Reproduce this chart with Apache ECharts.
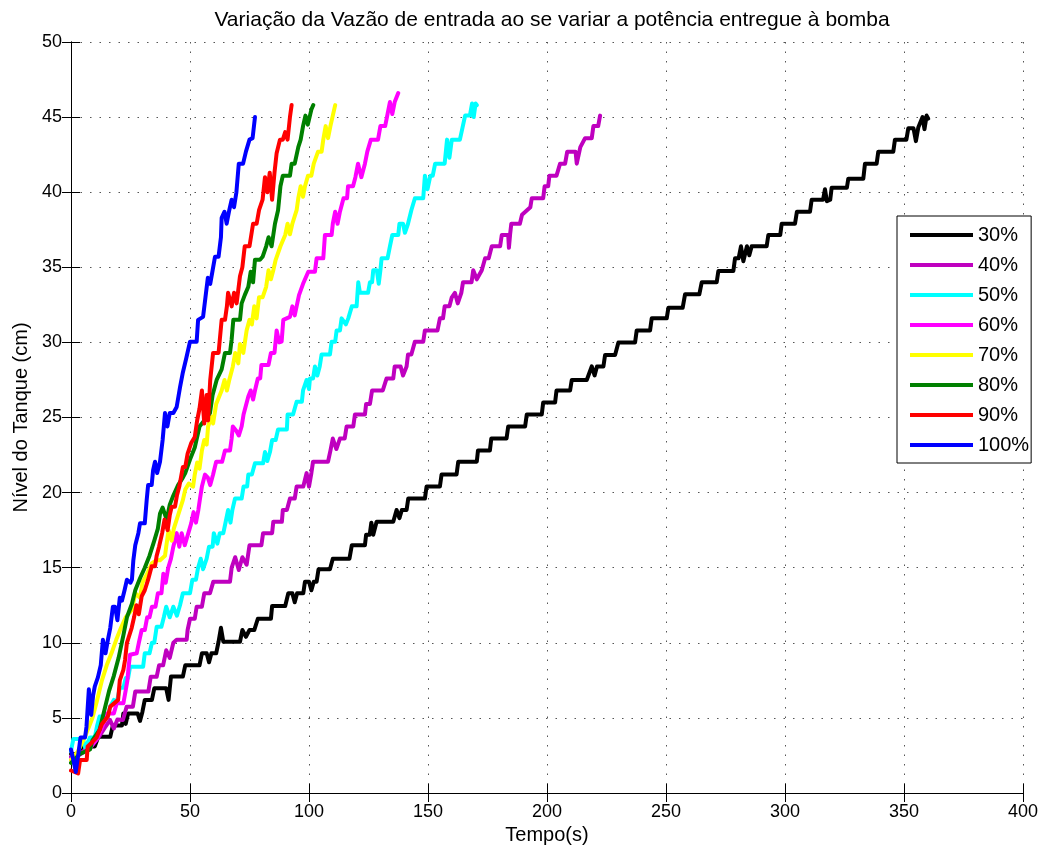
<!DOCTYPE html>
<html>
<head>
<meta charset="utf-8">
<script src="https://cdn.jsdelivr.net/npm/echarts@6/dist/echarts.min.js"></script>
<style>
html,body{margin:0;padding:0;background:#fff;}
#chart{width:1044px;height:853px;}
</style>
</head>
<body>
<div id="chart"></div>
<script>
// ---- data: [time (s), level (cm)] ----
var seriesNames = ['30%', '40%', '50%', '60%', '70%', '80%', '90%', '100%'];
var xTicks = [0, 50, 100, 150, 200, 250, 300, 350, 400];
var yTicks = [0, 5, 10, 15, 20, 25, 30, 35, 40, 45, 50];

var p30 = [[0,2.6],[4,2.6],[5,3.1],[10,3.1],[11.5,3.75],[16.5,3.75],[17.6,4.5],[21.4,4.5],[22,5.3],[23,4.6],[24,5.3],[28,5.3],[29,4.8],[30,5.4],[31,6.2],[34,6.2],[35,6.97],[40,6.97],[41,6.2],[42,7.75],[47,7.75],[48,8.5],[54,8.5],[55,9.3],[57,9.3],[58,8.7],[59,9.3],[61,9.3],[62,10.07],[63,11.0],[64,10.07],[71,10.07],[72,10.85],[73.5,10.4],[75,10.85],[77,10.85],[78.5,11.6],[84,11.6],[84.5,12.45],[90,12.45],[91.3,13.3],[93,13.3],[94,12.7],[95,13.3],[97.6,13.3],[98.3,14.07],[100,14.07],[101,13.5],[102,14.07],[103.2,14.07],[104,14.9],[108.8,14.9],[110,15.6],[117,15.6],[118,16.5],[123.5,16.5],[124,17.2],[125.5,17.2],[126.2,18.0],[127,17.2],[127.7,17.2],[128.4,18.06],[135.4,18.06],[136.8,18.84],[138,18.3],[139,18.84],[141,18.84],[141.7,19.6],[148.7,19.6],[149.4,20.4],[155,20.4],[155.7,21.2],[162,21.2],[162.7,22.06],[170.5,22.06],[171,22.8],[176,22.8],[176.6,23.6],[183,23.6],[183.7,24.4],[190.8,24.4],[191.5,25.2],[197.8,25.2],[198.4,26.0],[203.4,26.0],[204,26.8],[209.7,26.8],[210.4,27.5],[216.7,27.5],[218.8,28.4],[220,27.8],[221,28.4],[223.7,28.4],[224.4,29.16],[228.6,29.16],[230,30.0],[237,30.0],[237.7,30.8],[243.3,30.8],[244,31.6],[250.3,31.6],[251,32.3],[257,32.3],[258,33.2],[264,33.2],[265,34.0],[271.3,34.0],[272,34.75],[278.3,34.75],[279,35.6],[280.5,35.6],[281.5,36.4],[282.5,35.4],[284,36.4],[285,35.8],[286,36.4],[292.3,36.4],[293,37.15],[298,37.15],[298.6,37.9],[304.2,37.9],[305,38.7],[310.5,38.7],[311.2,39.5],[316,39.5],[316.8,40.2],[317.6,39.4],[319,39.5],[319.6,40.3],[326,40.3],[326.6,40.9],[332.9,40.9],[333.6,41.9],[338.5,41.9],[339.2,42.7],[345.5,42.7],[346.2,43.5],[351,43.5],[351.8,44.25],[354,44.25],[355,43.4],[356,44.3],[356.7,44.25],[357.8,45.0],[358.6,44.2],[359.5,45.1],[360.2,44.9]];

var p40 = [[0,2.4],[4,2.6],[8,3.2],[12,3.8],[14,4.3],[16.4,4.86],[18,4.3],[19.5,4.9],[21.8,4.86],[23.4,5.75],[26,5.75],[27,6.75],[32.5,6.75],[33.5,7.74],[36,7.74],[37,8.5],[38.7,8.5],[40,9.5],[41.5,9.0],[43,10.0],[44.4,10.2],[48.6,10.2],[49,10.85],[50,11.6],[52,11.6],[52.8,12.4],[55,12.4],[56,13.3],[58.4,13.3],[59.8,14.07],[66.8,14.07],[67.5,15.0],[69,15.7],[70.5,14.85],[72,15.7],[73.8,15.2],[75,16.5],[80,16.5],[80.7,17.3],[84.5,17.3],[85,18.06],[88.6,18.06],[89,18.84],[90.7,18.84],[92,19.6],[94,19.6],[94.8,20.4],[97.6,20.4],[99,21.3],[100,20.4],[101,21.3],[101.7,22.06],[108,22.06],[109,22.8],[110,23.6],[111.5,22.9],[113,23.6],[115,23.6],[115.8,24.4],[118.6,24.4],[119.3,25.2],[123.5,25.2],[124,25.9],[125.6,25.9],[126.5,26.8],[131,26.8],[132.6,27.6],[135.4,27.6],[136,28.4],[138.5,28.4],[139.5,27.8],[141,28.4],[141.6,29.2],[143,29.2],[144.5,30.05],[148,30.05],[148.7,30.8],[154,30.8],[155,31.6],[156.3,31.6],[157,32.4],[159,32.4],[160,33.0],[161.3,33.3],[162.5,32.6],[164,33.3],[164.7,34.0],[168.3,34.0],[169,34.8],[170.5,34.2],[172.6,34.8],[174,35.6],[175.5,35.6],[176.8,36.4],[180.3,36.4],[181,37.15],[183.7,37.15],[184,36.3],[184.5,37.2],[185,37.9],[188.6,37.9],[189.5,38.5],[191.6,38.8],[193,39.0],[193.6,39.6],[198.4,39.6],[199,40.4],[200.5,40.4],[201,41.1],[204,41.1],[205.5,41.9],[207.6,41.9],[208.5,42.7],[212,42.7],[212.5,41.9],[214,43.0],[216,43.6],[218.8,43.6],[219.5,44.4],[221.5,44.4],[222.3,45.1]];

var p50 = [[0,2.8],[1,3.6],[5,3.6],[6,3.0],[8,3.7],[10,3.7],[11,4.5],[12,5.1],[15.5,5.1],[16.4,5.75],[18,6.2],[19.2,6.0],[20.5,7.0],[22,7.0],[23,7.65],[24,7.65],[24.8,8.4],[30.3,8.4],[31,9.3],[33,9.3],[34,10.0],[35,10.0],[36,11.07],[38,11.07],[39,11.7],[40,12.4],[41.5,11.7],[43,12.4],[44.5,11.8],[45.8,12.5],[47,13.3],[50,13.3],[51,14.2],[52.5,14.2],[53.4,15.0],[54.5,15.6],[55.5,14.9],[57,15.6],[58,16.4],[59.5,16.4],[60,17.3],[61.5,16.6],[62.5,17.3],[64,17.3],[65,18.06],[66,18.84],[67,18.0],[67.8,18.84],[68.9,19.6],[71.7,19.6],[72.5,20.4],[74,20.4],[74.5,21.2],[76,21.2],[77.3,21.95],[80.7,21.95],[81.5,22.7],[82.5,22.1],[83.6,22.7],[84.5,23.5],[86,23.5],[87,24.2],[90.7,24.2],[91,25.2],[93.3,25.2],[94.8,26.05],[97,26.05],[97.5,26.8],[99,27.5],[100,26.9],[100.4,27.6],[101.7,27.6],[102.5,28.4],[103.5,27.8],[104.5,28.4],[105.3,29.2],[108.8,29.2],[109.5,30.05],[111,30.05],[111.6,30.8],[113,30.8],[113.7,31.6],[115.5,31.2],[116.5,31.6],[118,32.4],[120,32.4],[120.7,34.0],[121.4,33.3],[124.8,33.3],[125.6,34.0],[126.5,34.0],[127,34.8],[128.5,34.8],[129.3,33.9],[130,34.8],[130.5,35.6],[133,35.6],[134,36.4],[134.5,36.4],[135,37.15],[137.5,37.15],[138,37.9],[139.5,37.9],[140.3,37.3],[141.6,37.9],[143,38.8],[144.5,39.6],[148,39.6],[148.7,41.1],[149.8,40.2],[151,41.1],[152,41.1],[153,41.9],[157,41.9],[158,43.5],[159,42.3],[160,43.5],[163.4,43.5],[164.5,44.3],[165.6,45.1],[167.6,45.1],[168.5,45.9],[169.2,45.0],[170,45.9],[170.5,45.8]];

var p60 = [[0,2.2],[4,2.6],[8,3.0],[11,3.6],[13.4,4.5],[15,5.3],[18,5.3],[19.2,5.97],[22,5.97],[23,6.85],[23.7,7.5],[24.2,8.4],[24.8,9.2],[27.6,9.3],[28.5,10.0],[29.7,10.85],[31,10.85],[32,11.7],[33,11.7],[34,12.4],[35.5,12.4],[36.5,13.3],[38,13.3],[38.8,14.6],[39.8,14.0],[40.8,14.96],[42,15.6],[43,16.4],[44.4,17.3],[45.5,16.4],[46.5,17.3],[47.8,16.5],[49.3,17.3],[50.5,17.95],[51.5,18.7],[52.5,18.0],[53.5,18.84],[54.2,19.6],[55,20.4],[56.3,21.2],[57.5,21.0],[58.5,20.5],[59.7,21.2],[61,22.06],[63.5,22.06],[64.7,22.8],[66.8,22.8],[67.5,23.6],[68,24.4],[69.5,24.1],[70.5,23.8],[71.7,24.4],[72.5,25.2],[74.5,26.4],[75.5,26.8],[76.5,26.2],[77.3,26.8],[78.5,27.6],[79.5,27.6],[80,28.5],[83,28.5],[84,29.3],[85.5,29.3],[86.4,30.8],[87.5,30.0],[88.5,30.05],[89.2,31.5],[92,31.7],[93,32.4],[94,31.8],[94.8,32.4],[95.8,33.15],[97.5,33.9],[99.7,34.7],[102.5,34.7],[103.2,35.6],[106,35.6],[106.7,37.15],[109.5,37.15],[110,37.9],[111,38.7],[112,37.9],[113,38.7],[114.5,39.6],[116,39.6],[116.4,40.4],[118.5,40.4],[119.5,41.0],[120.6,41.9],[122,41.0],[123.5,41.9],[124.5,42.7],[125,42.7],[126,43.5],[129,43.5],[130,44.4],[132,44.4],[133,45.2],[134,46.0],[135,45.2],[136,46.0],[137.5,46.6]];

var p70 = [[0,2.2],[3,2.8],[6,3.8],[9,5.0],[11,6.2],[13,7.5],[15,8.5],[17,9.3],[19,10.2],[21,11.0],[23,11.7],[25.6,12.2],[27,13.3],[29,13.0],[30,14.0],[32,14.6],[34,15.3],[36,15.5],[37.4,15.5],[39.5,15.8],[40,16.4],[41,17.5],[42.3,16.8],[43.2,17.6],[44.4,18.2],[46,19.0],[47,19.5],[48,20.2],[49.5,20.6],[51.3,20.4],[52,21.2],[53,22.0],[54,21.6],[55,22.8],[56,23.5],[57,23.2],[57.6,24.4],[59,25.05],[59.7,24.6],[61,25.9],[63.3,26.8],[64.5,27.5],[65.5,26.8],[66.5,27.5],[68,28.4],[69,29.3],[70.3,28.6],[71,29.9],[72.4,29.3],[73.8,30.8],[75,31.5],[76,31.2],[77,32.4],[78,31.6],[79,33.0],[80.5,33.0],[82,33.7],[83,34.8],[84,34.2],[85,34.8],[86,35.5],[88,36.4],[90,37.15],[91,37.9],[92,37.2],[93,37.9],[94.8,38.8],[95.5,39.6],[96.5,40.4],[97.5,39.7],[98.3,40.4],[99.6,41.1],[101,41.1],[102,41.9],[103.8,42.7],[105.3,42.7],[106,43.5],[107,44.4],[108,43.6],[109,44.4],[110,45.1],[111,45.8]];

var p80 = [[0,2.0],[3.8,2.6],[8,2.9],[9,3.5],[12,4.2],[14,5.5],[16,6.8],[18,7.8],[20,9.0],[22,10.5],[23.5,11.7],[25.6,12.6],[27,13.5],[29,14.3],[31,15.0],[33,15.8],[35,16.8],[36.5,17.6],[37.4,18.6],[38.5,19.0],[40.2,18.2],[41.5,19.2],[43,19.8],[45,20.5],[47,21.0],[48,21.3],[50,22.2],[52,23.0],[54,24.4],[56,24.8],[58.4,25.3],[59.5,26.5],[61.2,27.5],[63.3,28.2],[64.7,29.3],[66.8,29.3],[67.5,30.2],[68.2,31.5],[71,31.5],[71.7,32.6],[73,33.15],[74.5,33.7],[75.5,34.7],[76.5,34.0],[77.3,35.5],[79.4,35.5],[80.5,35.7],[82,36.4],[83,37.0],[84.3,36.4],[85.7,37.9],[87,38.8],[88,40.4],[89,41.1],[92,41.1],[92.7,41.9],[94,41.9],[95.5,43.0],[96.5,43.5],[97.5,44.4],[98.5,45.1],[99.5,44.5],[100.4,45.1],[101,45.5],[101.8,45.8]];

var p90 = [[0,1.5],[3,1.3],[3.8,2.2],[6.6,2.2],[7,3.1],[9,3.4],[10.8,3.7],[11.5,4.0],[13,4.6],[15.5,5.1],[16.5,5.75],[19.8,6.2],[20.5,7.5],[22,8.2],[22.7,8.85],[23.5,10.0],[25.5,11.0],[26.5,11.7],[27.5,12.5],[28.5,11.9],[29.7,13.1],[31,13.5],[32.4,14.2],[33.9,15.1],[35.3,15.1],[36,15.8],[37,16.4],[38.3,17.3],[39.3,18.2],[40.6,17.5],[41.5,18.5],[42.3,19.06],[43.7,19.06],[44.5,19.8],[45.5,20.4],[47,21.7],[48,21.7],[49,22.6],[50.5,23.3],[52,23.7],[53,24.8],[54,25.6],[55,26.8],[56,24.6],[57,26.5],[57.6,24.8],[58.5,27.5],[59.7,29.3],[62,29.3],[63.3,31.5],[64.7,31.5],[65.5,32.4],[66,33.3],[67.5,32.4],[68.5,33.3],[69.6,32.6],[71,34.4],[72,35.0],[73,36.4],[75,36.4],[76.5,37.9],[78,37.9],[79,38.8],[80.5,39.5],[81.5,41.0],[82.5,40.0],[83.5,41.3],[84.5,39.5],[85.5,41.3],[86.4,42.6],[87.8,43.5],[89,43.5],[90,44.0],[91,43.5],[92,45.0],[92.7,45.8]];

var p100 = [[0,2.9],[1,2.2],[2,1.4],[3,2.5],[4,3.7],[5.9,3.7],[6.5,4.4],[7.5,6.9],[8.5,5.2],[9.3,6.5],[10,7.1],[11.3,7.7],[12.5,8.5],[13.4,10.2],[14.5,9.3],[15.5,10.2],[16.5,11.0],[17.6,12.4],[18.5,12.4],[19.5,11.5],[20.5,13.0],[21.4,12.8],[22.5,13.5],[23.5,14.2],[25,14.0],[25.6,14.2],[26.2,15.5],[27,16.5],[28.3,17.3],[29,17.96],[31,17.96],[31.8,19.5],[32.4,20.5],[33.9,20.5],[34.5,21.5],[35.3,22.06],[36.2,21.3],[37.4,22.06],[38.5,23.5],[39.5,25.3],[40.5,24.4],[41.5,25.3],[43,25.3],[44.4,25.7],[45.8,27.0],[47,28.0],[48.5,29.0],[50,30.05],[52.8,30.05],[53.4,31.5],[55.5,31.7],[56.5,33.0],[57.5,34.3],[58.5,33.9],[59.5,34.8],[60.5,35.7],[62,35.7],[63,37.0],[63.3,38.3],[64.5,38.7],[65.4,37.9],[66.5,38.8],[67.5,39.5],[68.5,39.0],[69.5,40.0],[70.5,41.9],[72.3,41.9],[73.5,42.7],[75,43.5],[76.3,43.6],[77.3,45.0]];

var seriesData = [p30, p40, p50, p60, p70, p80, p90, p100];
var seriesColors = ['#000000', '#BF00BF', '#00FFFF', '#FF00FF', '#FFFF00', '#008000', '#FF0000', '#0000FF'];

var FONT = '"Liberation Sans", Arial, Helvetica, sans-serif';

var chart = echarts.init(document.getElementById('chart'), null, {renderer: 'canvas'});

var gridLine = {show: true, lineStyle: {color: '#555', width: 1, type: [1.5, 8]}};
var tickStyle = {show: true, inside: true, length: 9, lineStyle: {color: '#000', width: 1}};
var axisLineStyle = {show: true, lineStyle: {color: '#000', width: 1}};

var series = seriesNames.map(function (n, i) {
  return {
    name: n,
    type: 'line',
    data: seriesData[i],
    showSymbol: false,
    symbol: 'none',
    color: seriesColors[i],
    lineStyle: {color: seriesColors[i], width: 4, join: 'round', cap: 'round'},
    animation: false,
    silent: true
  };
});

chart.setOption({
  backgroundColor: '#ffffff',
  animation: false,
  title: {
    text: 'Variação da Vazão de entrada ao se variar a potência entregue à bomba',
    left: 547,
    textAlign: 'center',
    top: 5,
    textStyle: {fontFamily: FONT, fontSize: 21, fontWeight: 'normal', color: '#000'}
  },
  legend: {
    orient: 'vertical',
    left: 897,
    top: 216,
    icon: 'rect',
    itemWidth: 63,
    itemHeight: 4,
    itemGap: 10,
    padding: [9, 2, 8, 13],
    borderColor: '#000',
    borderWidth: 1,
    backgroundColor: '#ffffff',
    textStyle: {fontFamily: FONT, fontSize: 20, color: '#000'},
    data: seriesNames
  },
  grid: {left: 71, top: 42, width: 952, height: 751, containLabel: false},
  xAxis: [{
    type: 'value', min: xTicks[0], max: xTicks[xTicks.length - 1], interval: xTicks[1] - xTicks[0],
    position: 'bottom',
    name: 'Tempo(s)', nameLocation: 'middle', nameGap: 30,
    nameTextStyle: {fontFamily: FONT, fontSize: 20, color: '#000'},
    axisLine: axisLineStyle, axisTick: tickStyle, splitLine: gridLine,
    axisLabel: {fontFamily: FONT, fontSize: 18, color: '#000', margin: 10, showMinLabel: true, showMaxLabel: true}
  }, {
    type: 'value', min: xTicks[0], max: xTicks[xTicks.length - 1], interval: xTicks[1] - xTicks[0],
    position: 'top',
    axisLine: axisLineStyle, axisTick: tickStyle, splitLine: {show: false}, axisLabel: {show: false}
  }],
  yAxis: [{
    type: 'value', min: yTicks[0], max: yTicks[yTicks.length - 1], interval: yTicks[1] - yTicks[0],
    position: 'left',
    name: 'Nível do Tanque (cm)', nameLocation: 'middle', nameGap: 39,
    nameTextStyle: {fontFamily: FONT, fontSize: 20, color: '#000'},
    axisLine: axisLineStyle, axisTick: tickStyle, splitLine: gridLine,
    axisLabel: {fontFamily: FONT, fontSize: 18, color: '#000', margin: 9, showMinLabel: true, showMaxLabel: true}
  }, {
    type: 'value', min: yTicks[0], max: yTicks[yTicks.length - 1], interval: yTicks[1] - yTicks[0],
    position: 'right',
    axisLine: axisLineStyle, axisTick: tickStyle, splitLine: {show: false}, axisLabel: {show: false}
  }],
  series: series
});
</script>
</body>
</html>
